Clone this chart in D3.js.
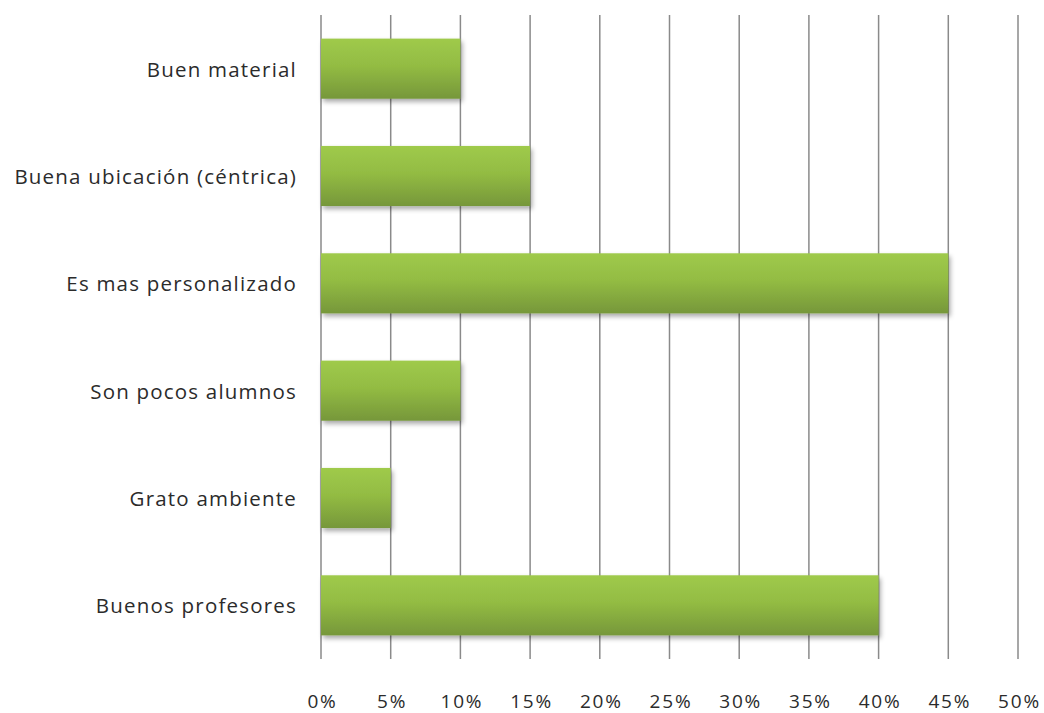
<!DOCTYPE html>
<html>
<head>
<meta charset="utf-8">
<script src="https://cdn.jsdelivr.net/npm/d3@7"></script>
<style>
  html, body { margin: 0; padding: 0; background: #fff; }
  svg { display: block; }
  text { font-family: "Open Sans", "DejaVu Sans", sans-serif; fill: #2b2b2b; }
</style>
</head>
<body>
<svg id="chart" width="1044" height="713"></svg>
<script>
// Reasons given, top to bottom, and their share of answers (%)
const categories = [
  "Buen material",
  "Buena ubicación (céntrica)",
  "Es mas personalizado",
  "Son pocos alumnos",
  "Grato ambiente",
  "Buenos profesores"
];
const values = [10, 15, 45, 10, 5, 40];
const tickValues = [0, 5, 10, 15, 20, 25, 30, 35, 40, 45, 50];

const svg = d3.select("#chart");
const plot = { left: 321, right: 1018, top: 15, bottom: 659 };

const x = d3.scaleLinear().domain([0, 50]).range([plot.left, plot.right]);
const y = d3.scaleBand().domain(categories).range([plot.top, plot.bottom]).paddingInner(0.44).paddingOuter(0.22);

const defs = svg.append("defs");
const grad = defs.append("linearGradient")
  .attr("id", "barGrad").attr("x1", 0).attr("y1", 0).attr("x2", 0).attr("y2", 1);
grad.append("stop").attr("offset", "0%").attr("stop-color", "#9fca4b");
grad.append("stop").attr("offset", "45%").attr("stop-color", "#93bc43");
grad.append("stop").attr("offset", "100%").attr("stop-color", "#76973a");

const shadow = defs.append("filter").attr("id", "shadow")
  .attr("x", "-5%").attr("y", "-10%").attr("width", "115%").attr("height", "140%");
shadow.append("feGaussianBlur").attr("in", "SourceAlpha").attr("stdDeviation", 2.5).attr("result", "b");
shadow.append("feOffset").attr("in", "b").attr("dx", 2).attr("dy", 3).attr("result", "o");
shadow.append("feComponentTransfer").attr("in", "o").attr("result", "s")
  .append("feFuncA").attr("type", "linear").attr("slope", 0.35);
const merge = shadow.append("feMerge");
merge.append("feMergeNode").attr("in", "s");
merge.append("feMergeNode").attr("in", "SourceGraphic");

// Vertical gridlines, one per tick
svg.append("g").selectAll("line").data(tickValues).join("line")
  .attr("x1", d => x(d)).attr("x2", d => x(d))
  .attr("y1", plot.top).attr("y2", plot.bottom)
  .attr("stroke", "#8a8a8a").attr("stroke-width", 1.5);

// Bars
svg.append("g").selectAll("rect").data(values).join("rect")
  .attr("x", x(0))
  .attr("y", (d, i) => y(categories[i]))
  .attr("width", d => x(d) - x(0))
  .attr("height", y.bandwidth())
  .attr("fill", "url(#barGrad)")
  .attr("filter", "url(#shadow)");

// Category labels
svg.append("g").selectAll("text").data(categories).join("text")
  .attr("x", 297)
  .attr("y", d => y(d) + y.bandwidth() / 2)
  .attr("text-anchor", "end")
  .attr("dominant-baseline", "central")
  .attr("font-size", 20.5)
  .attr("letter-spacing", 1.2)
  .text(d => d);

// X tick labels
const xAxis = d3.axisBottom(x).tickValues(tickValues).tickFormat(d => d + "%").tickSize(0);
const ax = svg.append("g").attr("transform", `translate(0, ${plot.bottom + 32})`).call(xAxis);
ax.select(".domain").remove();
ax.selectAll("text")
  .attr("font-size", 19)
  .attr("letter-spacing", 1.8)
  .attr("dx", 1)
  .attr("fill", "#2b2b2b")
  .style("font-family", "\"Open Sans\", \"DejaVu Sans\", sans-serif");
</script>
</body>
</html>
